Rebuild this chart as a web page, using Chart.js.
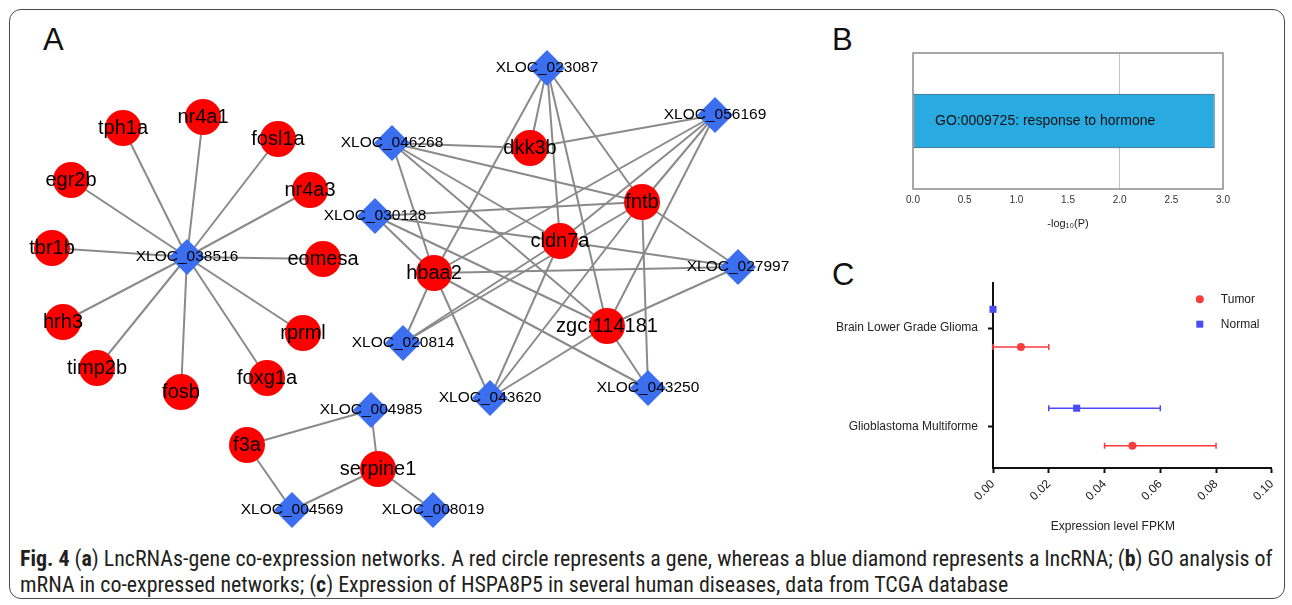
<!DOCTYPE html>
<html lang="en">
<head>
<meta charset="UTF-8" />
<title>Fig. 4 - LncRNA co-expression</title>
<script src="https://cdn.jsdelivr.net/npm/chart.js"></script>
<style>
  body { margin: 0; background: #fff; font-family: "Liberation Sans", Arial, sans-serif; }
  #page { position: relative; width: 1292px; height: 605px; overflow: hidden; }
  .frame { position: absolute; left: 9px; top: 9px; width: 1276px; height: 590px; box-sizing: border-box;
           border: 1px solid #4a4a4a; border-radius: 12px; }
  .letter { position: absolute; font-size: 31px; line-height: 31px; color: #111; }
  canvas { position: absolute; }
  #caption { position: absolute; left: 20px; top: 546px; white-space: nowrap; color: #231f20;
             font-family: "Liberation Sans Narrow", "Roboto Condensed", sans-serif; font-size: 19px; line-height: 26px; }
</style>
</head>
<body>
<div id="page">
  <div class="frame"></div>
  <div class="letter" style="left:43px;top:24px">A</div>
  <div class="letter" style="left:832px;top:24px">B</div>
  <div class="letter" style="left:832px;top:259px">C</div>
  <canvas id="net" width="790" height="510" style="left:20px;top:20px"></canvas>
  <canvas id="go" width="420" height="200" style="left:840px;top:40px"></canvas>
  <canvas id="expr" width="460" height="269" style="left:826px;top:266px"></canvas>
  <div id="caption"><span id="cap1"><b>Fig. 4</b> (<b>a</b>) LncRNAs-gene co-expression networks. A red circle represents a gene, whereas a blue diamond represents a lncRNA; (<b>b</b>) GO analysis of</span><br><span>mRNA in co-expressed networks; (<b>c</b>) Expression of HSPA8P5 in several human diseases, data from TCGA database</span></div>
</div>

<script>
  // ---- A: co-expression network (node layout) ----
  const geneNames = ['tph1a', 'nr4a1', 'fosl1a', 'egr2b', 'nr4a3', 'tbr1b', 'eomesa', 'hrh3', 'rprml', 'timp2b',
                     'foxg1a', 'fosb', 'dkk3b', 'fntb', 'cldn7a', 'hbaa2', 'zgc:114181', 'f3a', 'serpine1'];
  const geneX = [123, 203, 278, 71, 310, 52, 323, 63, 303, 97, 267, 181, 530, 642, 560, 434, 607, 247, 378];
  const geneY = [128, 117, 139, 180, 190, 248, 259, 322, 333, 368, 378, 392, 148, 202, 241, 273, 326, 445, 469];

  const lncNames = ['XLOC_038516', 'XLOC_023087', 'XLOC_056169', 'XLOC_046268', 'XLOC_030128', 'XLOC_027997',
                    'XLOC_020814', 'XLOC_043620', 'XLOC_043250', 'XLOC_004985', 'XLOC_004569', 'XLOC_008019'];
  const lncX = [187, 547, 715, 392, 375, 738, 403, 490, 648, 371, 292, 433];
  const lncY = [257, 68, 115, 143, 216, 267, 343, 398, 388, 410, 510, 510];

  // each edge: [lncRNA, gene]
  const edges = [
    ['XLOC_038516', 'tph1a'], ['XLOC_038516', 'nr4a1'], ['XLOC_038516', 'fosl1a'], ['XLOC_038516', 'egr2b'],
    ['XLOC_038516', 'nr4a3'], ['XLOC_038516', 'tbr1b'], ['XLOC_038516', 'eomesa'], ['XLOC_038516', 'hrh3'],
    ['XLOC_038516', 'rprml'], ['XLOC_038516', 'timp2b'], ['XLOC_038516', 'foxg1a'], ['XLOC_038516', 'fosb'],
    ['XLOC_023087', 'dkk3b'], ['XLOC_046268', 'dkk3b'], ['XLOC_056169', 'dkk3b'],
    ['XLOC_023087', 'hbaa2'], ['XLOC_056169', 'hbaa2'], ['XLOC_046268', 'hbaa2'], ['XLOC_030128', 'hbaa2'],
    ['XLOC_027997', 'hbaa2'], ['XLOC_020814', 'hbaa2'], ['XLOC_043620', 'hbaa2'], ['XLOC_043250', 'hbaa2'],
    ['XLOC_023087', 'cldn7a'], ['XLOC_056169', 'cldn7a'], ['XLOC_046268', 'cldn7a'], ['XLOC_030128', 'cldn7a'],
    ['XLOC_027997', 'cldn7a'], ['XLOC_020814', 'cldn7a'], ['XLOC_043620', 'cldn7a'],
    ['XLOC_023087', 'fntb'], ['XLOC_046268', 'fntb'], ['XLOC_030128', 'fntb'], ['XLOC_027997', 'fntb'],
    ['XLOC_020814', 'fntb'], ['XLOC_043620', 'fntb'], ['XLOC_043250', 'fntb'], ['XLOC_056169', 'fntb'],
    ['XLOC_023087', 'zgc:114181'], ['XLOC_056169', 'zgc:114181'], ['XLOC_046268', 'zgc:114181'],
    ['XLOC_030128', 'zgc:114181'], ['XLOC_027997', 'zgc:114181'], ['XLOC_043620', 'zgc:114181'],
    ['XLOC_043250', 'zgc:114181'],
    ['XLOC_004985', 'f3a'], ['XLOC_004985', 'serpine1'], ['XLOC_004569', 'f3a'], ['XLOC_004569', 'serpine1'],
    ['XLOC_008019', 'serpine1']
  ];

  // ---- B: GO enrichment ----
  const goTerms = ['GO:0009725: response to hormone'];
  const goScores = [2.92];

  // ---- C: HSPA8P5 expression (FPKM) ----
  const diseases = ['Brain Lower Grade Glioma', 'Glioblastoma Multiforme'];
  const tumorMean = [0.01, 0.05];
  const tumorLow = [0.0, 0.04];
  const tumorHigh = [0.02, 0.08];
  const normalMean = [0.0, 0.03];
  const normalLow = [0.0, 0.02];
  const normalHigh = [0.0, 0.06];

  const FONT = '"Liberation Sans", Arial, sans-serif';
  Chart.defaults.font.family = FONT;
  Chart.defaults.animation = false;
  Chart.defaults.responsive = false;
  Chart.defaults.plugins.legend.display = false;
  Chart.defaults.plugins.tooltip.enabled = false;

  // network
  const genePts = geneNames.map((n, i) => ({ x: geneX[i], y: geneY[i] }));
  const lncPts = lncNames.map((n, i) => ({ x: lncX[i], y: lncY[i] }));
  function nodePos(name) {
    let i = geneNames.indexOf(name);
    if (i >= 0) return genePts[i];
    return lncPts[lncNames.indexOf(name)];
  }
  const edgeSets = edges.map(e => ({
    data: [nodePos(e[0]), nodePos(e[1])],
    showLine: true, borderColor: '#8a8a8a', borderWidth: 2, pointRadius: 0, order: 2, clip: false
  }));

  const nodeLabels = {
    id: 'nodeLabels',
    afterDatasetsDraw(chart) {
      const ctx = chart.ctx;
      ctx.save();
      ctx.fillStyle = '#000';
      ctx.textAlign = 'center';
      ctx.textBaseline = 'middle';
      chart.data.datasets.forEach((ds, d) => {
        if (!ds.names) return;
        ctx.font = ds.labelSize + 'px ' + FONT;
        chart.getDatasetMeta(d).data.forEach((pt, i) => ctx.fillText(ds.names[i], pt.x, pt.y));
      });
      ctx.restore();
    }
  };

  new Chart(document.getElementById('net'), {
    type: 'scatter',
    data: {
      datasets: [
        { data: genePts, names: geneNames, labelSize: 20, pointStyle: 'circle', pointRadius: 18,
          backgroundColor: '#ff0000', borderWidth: 0, order: 0, clip: false },
        { data: lncPts, names: lncNames, labelSize: 15.5, pointStyle: 'rectRot', pointRadius: 18,
          backgroundColor: '#3b6ff0', borderWidth: 0, order: 1, clip: false },
        ...edgeSets
      ]
    },
    options: {
      layout: { padding: 0, autoPadding: false },
      scales: {
        x: { type: 'linear', display: false, min: 20, max: 810 },
        y: { type: 'linear', display: false, min: 20, max: 530, reverse: true }
      }
    },
    plugins: [nodeLabels]
  });

  // GO bar chart
  const boxAndText = {
    id: 'boxAndText',
    afterDatasetsDraw(chart) {
      const { ctx, chartArea: a } = chart;
      const bar = chart.getDatasetMeta(0).data[0];
      ctx.save();
      ctx.font = '14px ' + FONT;
      ctx.fillStyle = '#111';
      ctx.textBaseline = 'middle';
      ctx.fillText(goTerms[0], chart.scales.x.getPixelForValue(0) + 22, bar.y);
      ctx.strokeStyle = '#8c8c8c';
      ctx.lineWidth = 1.5;
      ctx.strokeRect(a.left, a.top, a.right - a.left, a.bottom - a.top);
      ctx.restore();
    }
  };

  new Chart(document.getElementById('go'), {
    type: 'bar',
    data: {
      labels: goTerms,
      datasets: [{ data: goScores, backgroundColor: '#29aae1', borderColor: '#1d4f6c', borderWidth: 1,
                   borderSkipped: false, barPercentage: 0.4, categoryPercentage: 1 }]
    },
    options: {
      indexAxis: 'y',
      layout: { padding: { left: 73, right: 37, top: 13, bottom: 0 }, autoPadding: false },
      scales: {
        x: {
          min: 0, max: 3,
          ticks: { stepSize: 0.5, callback: v => v.toFixed(1), font: { size: 10 }, color: '#333', padding: 5 },
          grid: { drawTicks: false, color: c => (c.tick && c.tick.value === 2 ? '#c4c4c4' : 'rgba(0,0,0,0)') },
          border: { display: false },
          title: { display: true, text: '-log\u2081\u2080(P)', font: { size: 11 }, color: '#222', padding: { top: 0, bottom: 9 } },
          afterFit: s => { s.height = 51; }
        },
        y: { display: false }
      }
    },
    plugins: [boxAndText]
  });

  // Expression dot plot with error bars, legend and offset axis title
  const xTitle = 'Expression level FPKM';
  const errorBars = {
    id: 'errorBars',
    beforeDatasetsDraw(chart) {
      const { ctx } = chart;
      const xs = chart.scales.x;
      ctx.save();
      chart.data.datasets.forEach((ds, d) => {
        ctx.strokeStyle = ds.backgroundColor;
        ctx.lineWidth = 1.5;
        chart.getDatasetMeta(d).data.forEach((pt, i) => {
          if (ds.errHigh[i] <= ds.errLow[i]) return;
          const x0 = xs.getPixelForValue(ds.errLow[i]);
          const x1 = xs.getPixelForValue(ds.errHigh[i]);
          ctx.beginPath();
          ctx.moveTo(x0, pt.y); ctx.lineTo(x1, pt.y);
          ctx.moveTo(x0, pt.y - 3); ctx.lineTo(x0, pt.y + 3);
          ctx.moveTo(x1, pt.y - 3); ctx.lineTo(x1, pt.y + 3);
          ctx.stroke();
        });
      });
      ctx.restore();
    },
    afterDraw(chart) {
      const { ctx, chartArea: a } = chart;
      ctx.save();
      ctx.font = '12px ' + FONT;
      ctx.textBaseline = 'middle';
      chart.data.datasets.forEach((ds, d) => {
        const x = a.right - 72, y = a.top + 16 + d * 25;
        ctx.fillStyle = ds.backgroundColor;
        ctx.beginPath();
        if (ds.pointStyle === 'rect') ctx.rect(x - 3.5, y - 3.5, 7, 7);
        else ctx.arc(x, y, 4, 0, Math.PI * 2);
        ctx.fill();
        ctx.fillStyle = '#222';
        ctx.fillText(ds.label, x + 21, y);
      });
      ctx.fillStyle = '#222';
      ctx.textAlign = 'center';
      ctx.fillText(xTitle, a.left + (a.right - a.left) * 0.43, a.bottom + 59);
      ctx.restore();
    }
  };

  const rowShift = 0.19;
  new Chart(document.getElementById('expr'), {
    type: 'scatter',
    data: {
      datasets: [
        { label: 'Tumor', data: tumorMean.map((v, i) => ({ x: v, y: i + 1 + rowShift })),
          errLow: tumorLow, errHigh: tumorHigh, pointStyle: 'circle', pointRadius: 4,
          backgroundColor: '#fa3c3c', borderWidth: 0, clip: false },
        { label: 'Normal', data: normalMean.map((v, i) => ({ x: v, y: i + 1 - rowShift })),
          errLow: normalLow, errHigh: normalHigh, pointStyle: 'rect', pointRadius: 5,
          backgroundColor: '#4b4bf6', borderWidth: 0, clip: false }
      ]
    },
    options: {
      layout: { padding: { left: 0, right: 13, top: 0, bottom: 0 }, autoPadding: false },
      scales: {
        x: {
          type: 'linear', min: 0, max: 0.1,
          ticks: { stepSize: 0.02, callback: v => v.toFixed(2), minRotation: 45, maxRotation: 45, autoSkip: false,
                   font: { size: 12 }, color: '#222', padding: 4 },
          grid: { drawOnChartArea: false, tickLength: 5, tickWidth: 2, tickColor: '#111' },
          border: { color: '#111', width: 2 },
          afterFit: s => { s.height = 67; }
        },
        y: {
          type: 'linear', reverse: true, min: 0.546, max: 2.415,
          afterBuildTicks: s => { s.ticks = diseases.map((n, i) => ({ value: i + 1 })); },
          ticks: { callback: (v, i) => diseases[i], font: { size: 12 }, color: '#222', padding: 10 },
          grid: { drawOnChartArea: false, tickLength: 5, tickWidth: 2, tickColor: '#111' },
          border: { color: '#111', width: 2 },
          afterFit: s => { s.width = 167; }
        }
      }
    },
    plugins: [errorBars]
  });

  // fit caption's first line to the figure width
  const cap = document.getElementById('caption');
  const w = document.getElementById('cap1').getBoundingClientRect().width;
  cap.style.fontSize = (19 * 1253 / w).toFixed(2) + 'px';
</script>
</body>
</html>
